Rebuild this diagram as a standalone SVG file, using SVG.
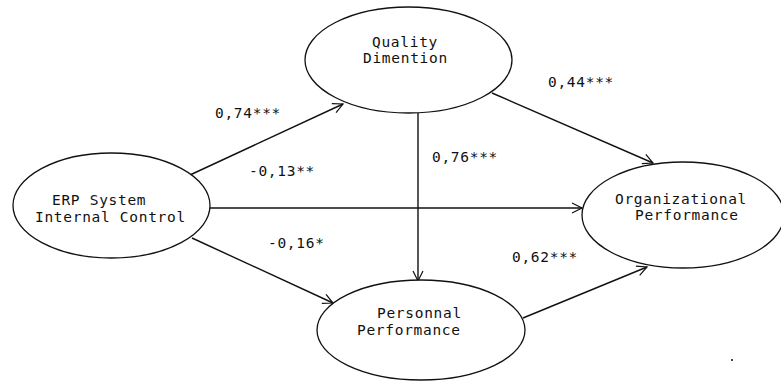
<svg xmlns="http://www.w3.org/2000/svg" width="781" height="382" viewBox="0 0 781 382">
<style>
.node ellipse{fill:#fff;stroke:#111;stroke-width:1.3}
text{font-family:"DejaVu Sans Mono","Liberation Mono",monospace;font-size:14.5px;fill:#111;letter-spacing:0.7px}
.edge{stroke:#111;stroke-width:1.4;fill:none;marker-end:url(#arr)}
</style>
<defs>
<marker id="arr" markerUnits="userSpaceOnUse" markerWidth="14" markerHeight="14" refX="12" refY="6" orient="auto">
<path d="M2,1 L12,6 L2,11" fill="none" stroke="#111" stroke-width="1.2"/>
</marker>
</defs>
<rect width="781" height="382" fill="#fff"/>
<g id="connectors">
<line class="edge" x1="190" y1="175" x2="343" y2="104"/>
<line class="edge" x1="210" y1="208" x2="582" y2="208"/>
<line class="edge" x1="192" y1="238" x2="333" y2="303"/>
<line class="edge" x1="418" y1="113" x2="418" y2="281"/>
<line class="edge" x1="492" y1="93" x2="653" y2="163"/>
<line class="edge" x1="523" y1="318" x2="647" y2="267"/>
</g>
<g id="node-erp" class="node">
<ellipse cx="111.5" cy="205.5" rx="98.5" ry="52.5"/>
<text x="52" y="205">ERP System</text>
<text x="35" y="222">Internal Control</text>
</g>
<g id="node-quality" class="node">
<ellipse cx="408.5" cy="60" rx="103.5" ry="53"/>
<text x="372" y="47">Quality</text>
<text x="363" y="63">Dimention</text>
</g>
<g id="node-org" class="node">
<ellipse cx="683" cy="215" rx="101" ry="53"/>
<text x="615" y="204">Organizational</text>
<text x="635" y="220">Performance</text>
</g>
<g id="node-personal" class="node">
<ellipse cx="421" cy="330" rx="104" ry="50"/>
<text x="377" y="318">Personnal</text>
<text x="357" y="335">Performance</text>
</g>
<g id="labels">
<text x="215" y="118">0,74***</text>
<text x="249" y="176">-0,13**</text>
<text x="268" y="248">-0,16*</text>
<text x="432" y="162">0,76***</text>
<text x="512" y="262">0,62***</text>
<text x="548" y="87">0,44***</text>
</g>
<rect x="731" y="359" width="2" height="2" fill="#444"/>
</svg>
